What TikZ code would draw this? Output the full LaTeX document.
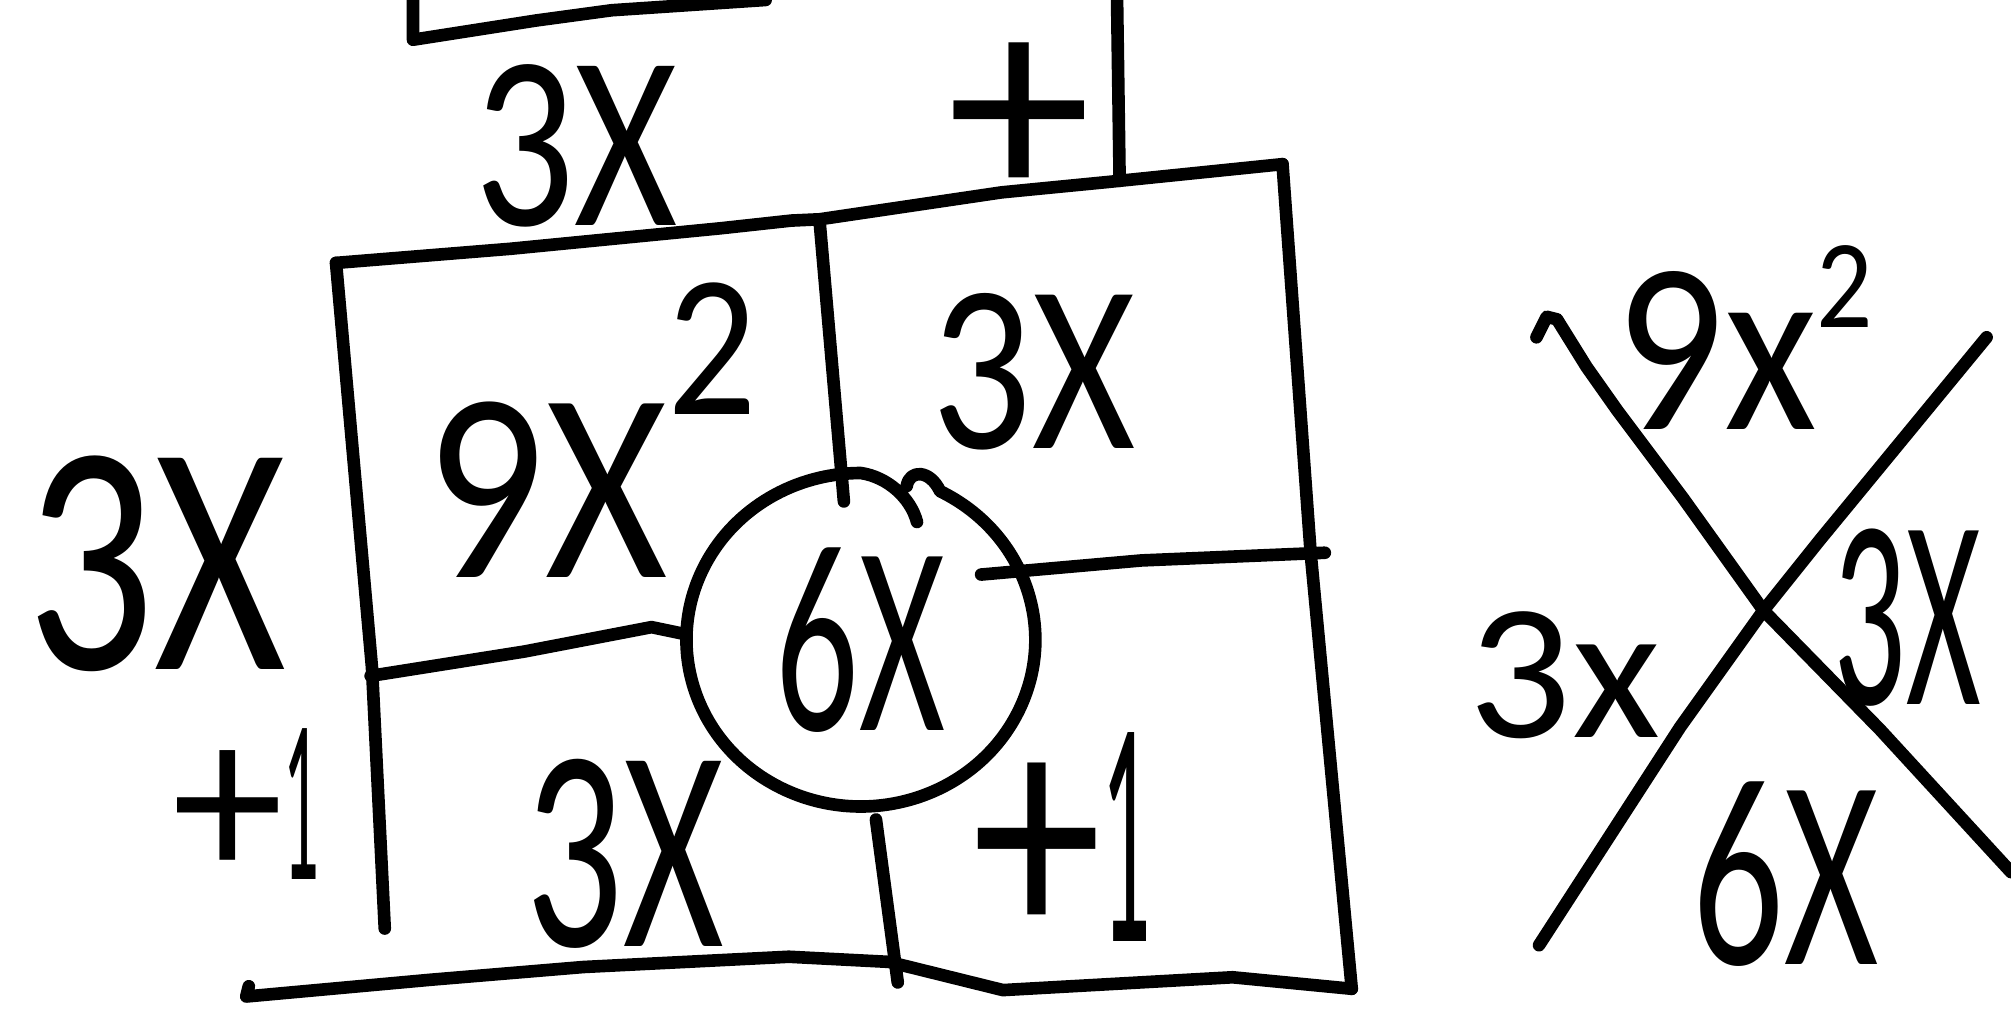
\documentclass[tikz,border=0pt]{standalone}
\usepackage{fontspec}
\usepackage{graphicx}
\usepackage{tikz}
\usetikzlibrary{shapes.geometric}
\newfontfamily\handfont{Carlito}
\newcommand{\hw}[2]{\scalebox{#1}[1]{#2}}
\tikzset{
    pen/.style={
        draw=black,
        line width=2.8pt,
        line cap=round,
        line join=round
    },
    lbl/.style={
        font=\handfont\fontsize{#1}{#1}\selectfont,
        inner sep=0pt,
        anchor=base
    }
}

\begin{document}
\begin{tikzpicture}[x=0.01cm, y=-0.01cm]
            % Help lines :
            % \draw [help lines] (0,0) grid (1568,786);
            \useasboundingbox (0,0) rectangle (1568,786);

            % Corners
            \coordinate (tl) at (262,205);
            \coordinate (tr) at (1000,128);
            \coordinate (br) at (1054,771);
            \coordinate (bl) at (194,769);
            \coordinate (cross) at (1375,476);

            % Box above
            \draw [pen] (322,0) -- (322,31) -- (418,16) -- (477,8) -- (597,0);
            \draw [pen] (871,0) -- (873,141);

            % Box
            \draw [pen] (tl) -- (398,194) -- (480,186) -- (562,178) -- (617,172)
                -- (639,171) -- (781,150) -- (863,142) -- (tr);
            \draw [pen] (tl) -- (290,520) -- (300,724);
            \draw [pen] (tr) -- (1022,432) -- (br);
            \draw [pen] (bl) -- (192,777) -- (335,764) -- (455,754) -- (615,746)
                -- (693,750) -- (782,772) -- (961,762) -- (br);

            % Middle term
            \node (ring) [
                ellipse,
                minimum width=2.72cm,
                minimum height=2.6cm,
                lbl=60,
                anchor=center,
            ] at (671,499) {\hw{0.61}{6X}};
            \draw [pen] (707,379) .. controls (709,366) and (725,366) .. (733,383)
                arc [start angle=297, end angle=630, x radius=136, y radius=130]
                .. controls (692,372) and (710,388) .. (715,407);

            % Splits
            \draw [pen] (639,172) -- (658,391);
            \draw [pen] (683,639) -- (700,766);
            \draw [pen] (289,527) -- (409,508) -- (508,489) -- (532,494);
            \draw [pen] (765,448) -- (890,437) -- (1033,431);

            % Labels
            \node (top3x) [lbl=55] at (449,176) {\hw{0.8}{3X}};
            \node (topplus) [lbl=64, anchor=center] at (795,95) {+};
            \node (left3x) [lbl=73] at (122,522) {\hw{0.77}{3X}};
            \node (leftone) [lbl=52] at (192,686) {\hw{0.95}{+}\hw{0.3}{1}};
            \node (ninex) [lbl=60] at (461,450)
                {\hw{0.87}{9X\raisebox{0.6em}{\fontsize{45}{45}\selectfont 2}}};
            \node (cell3x) [lbl=53] at (806,350) {\hw{0.83}{3X}};
            \node (bot3x) [lbl=64] at (487,738) {\hw{0.67}{3X}};
            \node (botone) [lbl=72] at (828,734) {\hw{0.8}{+}\hw{0.3}{1}};

            % Cross
            \draw [pen] (1198,263) -- (1206,247) -- (1214,249) -- (1237,286)
                -- (1261,320) -- (1312,388) -- (cross) -- (1466,569) -- (1568,680);
            \draw [pen] (1549,263) -- (1419,421) -- (cross) -- (1310,567) -- (1200,737);
            \node (xnine) [lbl=54] at (1360,335)
                {\hw{0.88}{9x\raisebox{0.42em}{\fontsize{28}{28}\selectfont 2}}};
            \node (xleft) [lbl=43] at (1220,575) {\hw{1.05}{3x}};
            \node (xright) [lbl=60] at (1487,549) {\hw{0.53}{3X}};
            \node (xbot) [lbl=60] at (1392,752) {\hw{0.67}{6X}};
\end{tikzpicture}
\end{document}
